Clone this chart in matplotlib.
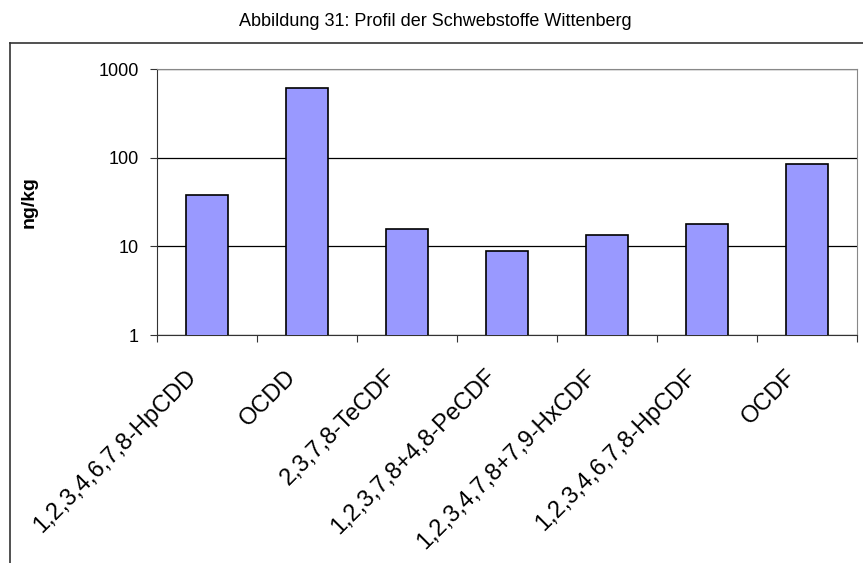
import matplotlib
matplotlib.use('Agg')
import matplotlib.pyplot as plt
from matplotlib.lines import Line2D
from matplotlib.transforms import ScaledTranslation

plt.rcParams['font.family'] = ['Liberation Sans', 'DejaVu Sans']

categories = ['1,2,3,4,6,7,8-HpCDD', 'OCDD', '2,3,7,8-TeCDF', '1,2,3,7,8+4,8-PeCDF',
              '1,2,3,4,7,8+7,9-HxCDF', '1,2,3,4,6,7,8-HpCDF', 'OCDF']
values = [38, 610, 15.7, 8.9, 13.5, 17.8, 85]
yticks = [1, 10, 100, 1000]

fig = plt.figure(figsize=(8.63, 5.63), dpi=100)
ax = fig.add_axes([157/863, 1-335/563, 700/863, 266/563])

x = list(range(len(categories)))
ax.bar(x, values, width=0.42, color='#9999ff', edgecolor='black', linewidth=1.2, zorder=3)
ax.set_yscale('log')
ax.set_ylim(1, 1000)
ax.set_xlim(-0.5, len(categories) - 0.5)
ax.set_yticks(yticks)
ax.set_yticklabels([str(t) for t in yticks], fontsize=13)
ax.yaxis.set_minor_locator(matplotlib.ticker.NullLocator())
ax.yaxis.grid(True, color='black', linewidth=0.9, zorder=0)

# category ticks at boundaries, labels at centres
ax.set_xticks([i - 0.5 for i in range(len(categories) + 1)])
ax.set_xticklabels([])
ax.set_xticks(x, minor=True)
ax.set_xticklabels(categories, minor=True, rotation=45, ha='right', rotation_mode='anchor', fontsize=17)
ax.tick_params(axis='x', which='minor', length=0, pad=22)
ax.tick_params(axis='x', which='major', length=5, direction='out', color='#333333')
ax.tick_params(axis='y', length=5, direction='out', color='#333333', pad=8)
for lbl in ax.get_xticklabels(minor=True):
    lbl.set_transform(lbl.get_transform() + ScaledTranslation(-0.22, 0, fig.dpi_scale_trans))

for s in ['top', 'right']:
    ax.spines[s].set_color('#888888')
for s in ['left', 'bottom']:
    ax.spines[s].set_color('#333333')

ax.set_ylabel('ng/kg', fontweight='bold', fontsize=14)
ax.yaxis.set_label_coords(-0.17, 0.5)

fig.text(435/863, 1-22/563, 'Abbildung 31: Profil der Schwebstoffe Wittenberg', ha='center', va='center', fontsize=13)

# outer chart frame
fig.add_artist(Line2D([10/863, 10/863], [0, 1-43/563], color='#333333', linewidth=1.2))
fig.add_artist(Line2D([10/863, 1], [1-43/563, 1-43/563], color='#333333', linewidth=1.2))

fig.savefig('out.png', dpi=100)
